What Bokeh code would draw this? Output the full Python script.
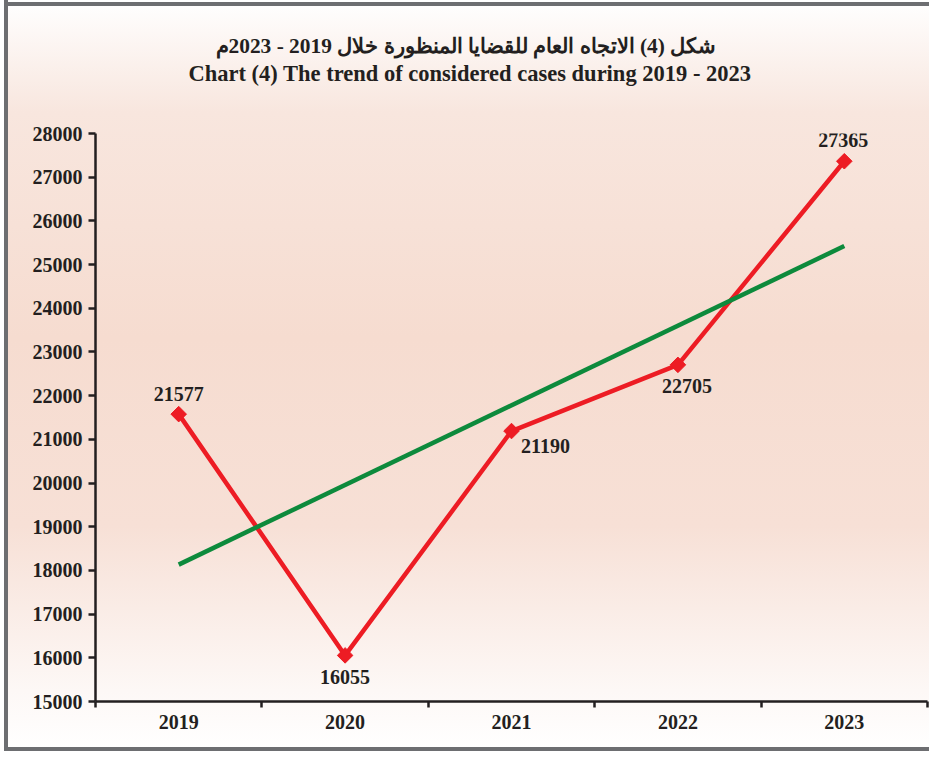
import math
from bokeh.plotting import figure
from bokeh.models import (Range1d, FixedTicker, ColumnDataSource, Title)
from bokeh.core.properties import value
from bokeh.embed import file_html
from bokeh.resources import INLINE

# ---- data ----
years = ["2019", "2020", "2021", "2022", "2023"]
cases = [21577, 16055, 21190, 22705, 27365]
case_labels = ["21577", "16055", "21190", "22705", "27365"]
trend_years = ["2019", "2023"]
trend_values = [18133, 25424]
y_ticks = [15000, 16000, 17000, 18000, 19000, 20000, 21000,
           22000, 23000, 24000, 25000, 26000, 27000, 28000]
title_ar = "شكل (4) الاتجاه العام للقضايا المنظورة خلال 2019 - 2023م"
title_en = "Chart (4) The trend of considered cases during 2019 - 2023"

# ---- styles ----
label_dx = [0, 0, 34, 9, -1]
label_dy = [-20, 22, 15, 21, -21]
SERIF = "Liberation Serif"
DARK = "#231f20"
RED = "#ed1c24"
GREEN = "#0d8a3c"

xpos = [years.index(y) + 1 for y in years]
trend_x = [years.index(y) + 1 for y in trend_years]

p = figure(width=929, height=751, output_backend="svg", toolbar_location=None,
           x_range=Range1d(0.5, len(years) + 0.5), y_range=Range1d(15000, 28000),
           min_border_left=95, min_border_right=2, min_border_top=133,
           min_border_bottom=50)
p.border_fill_alpha = 0
p.background_fill_alpha = 0
p.outline_line_color = None
p.styles = {
    "background": "linear-gradient(to bottom, #ffffff 0%, #f8e6de 15%, #f6dcd0 45%, #f7e0d6 70%, #fdf8f6 92%, #ffffff 100%)",
    "box-shadow": "inset 4px 0 0 0 #ffffff, inset 8px 0 0 0 #6d6e71, inset 0 2px 0 0 #ffffff, inset 0 6px 0 0 #6d6e71, inset 0 -4px 0 0 #6d6e71",
}
p.grid.visible = False

# y axis
ya = p.yaxis[0]
ya.ticker = FixedTicker(ticks=y_ticks)
ya.axis_line_width = 2.5
ya.axis_line_color = DARK
ya.major_tick_line_width = 2.5
ya.major_tick_line_color = DARK
ya.major_tick_out = 7
ya.major_tick_in = 0
ya.minor_tick_line_color = None
ya.major_label_text_font = SERIF
ya.major_label_text_font_style = "bold"
ya.major_label_text_font_size = "20px"
ya.major_label_text_color = DARK
ya.major_label_standoff = 6

# x axis (ticks between categories, labels at centres)
xa = p.xaxis[0]
xa.ticker = FixedTicker(ticks=xpos, minor_ticks=[i + 0.5 for i in range(len(years) + 1)])
xa.major_label_overrides = {x: y for x, y in zip(xpos, years)}
xa.axis_line_width = 2.5
xa.axis_line_color = DARK
xa.major_tick_line_color = None
xa.major_tick_out = 6
xa.major_tick_in = 0
xa.minor_tick_line_width = 2.5
xa.minor_tick_line_color = DARK
xa.minor_tick_out = 6
xa.minor_tick_in = 0
xa.major_label_text_font = SERIF
xa.major_label_text_font_style = "bold"
xa.major_label_text_font_size = "20px"
xa.major_label_text_color = DARK
xa.major_label_standoff = 7

src = ColumnDataSource(dict(x=xpos, y=cases, lab=case_labels, dx=label_dx, dy=label_dy))

p.line("x", "y", source=src, line_color=RED, line_width=4.5)
p.scatter("x", "y", source=src, marker="square", size=11, angle=math.pi / 4,
          fill_color=RED, line_color=RED)
p.line(trend_x, trend_values, line_color=GREEN, line_width=4.5)
p.text("x", "y", text="lab", source=src, x_offset="dx", y_offset="dy",
       text_align="center", text_baseline="middle", text_font=value(SERIF),
       text_font_style="bold", text_font_size="20px", text_color=DARK)

# titles: spacer (innermost), English, Arabic (outermost)
spacer = Title(text=" ", text_font_size="10px", standoff=35)
t_en = Title(text=title_en, align="left", offset=93, text_font=SERIF,
             text_font_style="bold", text_font_size="22.5px", text_color=DARK, standoff=0)
t_ar = Title(text=title_ar, align="left", offset=120, text_font=SERIF,
             text_font_style="bold", text_font_size="21.4px", text_color=DARK, standoff=1)
p.add_layout(spacer, "above")
p.add_layout(t_en, "above")
p.add_layout(t_ar, "above")

open("out.html", "w").write(file_html(p, INLINE))
